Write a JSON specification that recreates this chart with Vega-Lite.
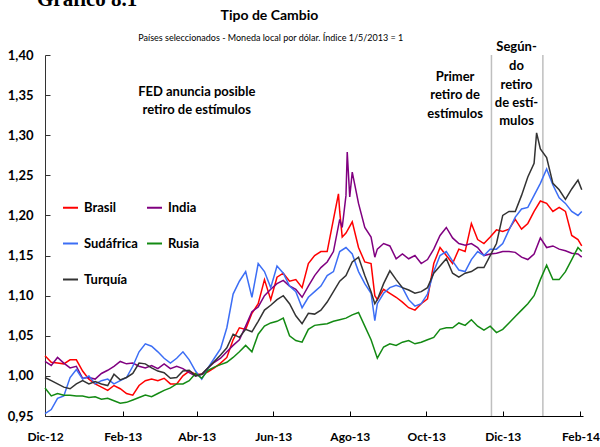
{
  "$schema": "https://vega.github.io/schema/vega-lite/v6.json",
  "width": 538,
  "height": 361,
  "autosize": {"type": "none"},
  "padding": {"left": 45, "top": 55, "right": 17, "bottom": 31},
  "background": "white",
  "config": {"view": {"stroke": null}, "font": "Lato"},
  "title": {
    "text": "Gráfico 8.1",
    "anchor": "start",
    "frame": "group",
    "dx": -8,
    "font": "Liberation Serif",
    "fontSize": 21,
    "fontWeight": "bold",
    "color": "#000",
    "offset": -1
  },
  "datasets": {
    "series": [
      {"d":"2012-12-01","Brasil":1.025,"India":1.018,"Sudáfrica":0.953,"Rusia":0.985,"Turquía":0.998},
      {"d":"2012-12-06","Brasil":1.017,"India":1.013,"Sudáfrica":0.958,"Rusia":0.975,"Turquía":0.994},
      {"d":"2012-12-11","Brasil":1.016,"India":1.023,"Sudáfrica":0.972,"Rusia":0.978,"Turquía":0.990},
      {"d":"2012-12-16","Brasil":1.015,"India":1.016,"Sudáfrica":0.975,"Rusia":0.976,"Turquía":0.986},
      {"d":"2012-12-21","Brasil":1.020,"India":1.010,"Sudáfrica":0.998,"Rusia":0.976,"Turquía":0.984},
      {"d":"2012-12-26","Brasil":1.020,"India":1.012,"Sudáfrica":1.008,"Rusia":0.975,"Turquía":0.990},
      {"d":"2012-12-31","Brasil":1.006,"India":0.997,"Sudáfrica":0.996,"Rusia":0.975,"Turquía":0.994},
      {"d":"2013-01-05","Brasil":0.996,"India":0.998,"Sudáfrica":1.000,"Rusia":0.973,"Turquía":0.990},
      {"d":"2013-01-10","Brasil":0.990,"India":0.996,"Sudáfrica":0.990,"Rusia":0.974,"Turquía":0.993},
      {"d":"2013-01-15","Brasil":0.986,"India":1.003,"Sudáfrica":0.994,"Rusia":0.971,"Turquía":0.990},
      {"d":"2013-01-20","Brasil":0.982,"India":1.007,"Sudáfrica":0.996,"Rusia":0.972,"Turquía":0.988},
      {"d":"2013-01-25","Brasil":0.988,"India":1.012,"Sudáfrica":0.990,"Rusia":0.969,"Turquía":1.002},
      {"d":"2013-01-30","Brasil":0.984,"India":1.018,"Sudáfrica":0.994,"Rusia":0.966,"Turquía":0.995},
      {"d":"2013-02-04","Brasil":0.978,"India":1.015,"Sudáfrica":0.998,"Rusia":0.967,"Turquía":0.998},
      {"d":"2013-02-09","Brasil":0.976,"India":1.016,"Sudáfrica":1.012,"Rusia":0.970,"Turquía":1.003},
      {"d":"2013-02-14","Brasil":0.988,"India":1.012,"Sudáfrica":1.030,"Rusia":0.973,"Turquía":1.016},
      {"d":"2013-02-19","Brasil":0.994,"India":1.010,"Sudáfrica":1.040,"Rusia":0.976,"Turquía":1.015},
      {"d":"2013-02-24","Brasil":0.996,"India":1.013,"Sudáfrica":1.037,"Rusia":0.974,"Turquía":1.010},
      {"d":"2013-03-01","Brasil":0.994,"India":1.009,"Sudáfrica":1.030,"Rusia":0.978,"Turquía":1.006},
      {"d":"2013-03-06","Brasil":0.997,"India":1.015,"Sudáfrica":1.022,"Rusia":0.982,"Turquía":1.004},
      {"d":"2013-03-11","Brasil":0.990,"India":1.009,"Sudáfrica":1.016,"Rusia":0.985,"Turquía":0.997},
      {"d":"2013-03-16","Brasil":0.990,"India":1.012,"Sudáfrica":1.022,"Rusia":0.990,"Turquía":0.998},
      {"d":"2013-03-21","Brasil":1.000,"India":1.009,"Sudáfrica":1.030,"Rusia":0.990,"Turquía":1.006},
      {"d":"2013-03-26","Brasil":1.006,"India":1.004,"Sudáfrica":1.020,"Rusia":0.994,"Turquía":1.007},
      {"d":"2013-03-31","Brasil":1.002,"India":1.000,"Sudáfrica":1.006,"Rusia":1.003,"Turquía":1.000},
      {"d":"2013-04-05","Brasil":1.002,"India":1.002,"Sudáfrica":0.996,"Rusia":0.997,"Turquía":1.002},
      {"d":"2013-04-10","Brasil":1.005,"India":1.010,"Sudáfrica":1.010,"Rusia":1.007,"Turquía":1.010},
      {"d":"2013-04-15","Brasil":1.010,"India":1.017,"Sudáfrica":1.022,"Rusia":1.011,"Turquía":1.018},
      {"d":"2013-04-20","Brasil":1.016,"India":1.022,"Sudáfrica":1.034,"Rusia":1.014,"Turquía":1.026},
      {"d":"2013-04-25","Brasil":1.023,"India":1.030,"Sudáfrica":1.060,"Rusia":1.017,"Turquía":1.035},
      {"d":"2013-04-30","Brasil":1.045,"India":1.038,"Sudáfrica":1.102,"Rusia":1.023,"Turquía":1.052},
      {"d":"2013-05-05","Brasil":1.060,"India":1.045,"Sudáfrica":1.118,"Rusia":1.030,"Turquía":1.048},
      {"d":"2013-05-10","Brasil":1.058,"India":1.062,"Sudáfrica":1.130,"Rusia":1.038,"Turquía":1.058},
      {"d":"2013-05-15","Brasil":1.078,"India":1.080,"Sudáfrica":1.098,"Rusia":1.030,"Turquía":1.055},
      {"d":"2013-05-20","Brasil":1.090,"India":1.086,"Sudáfrica":1.140,"Rusia":1.052,"Turquía":1.068},
      {"d":"2013-05-25","Brasil":1.120,"India":1.100,"Sudáfrica":1.130,"Rusia":1.062,"Turquía":1.082},
      {"d":"2013-05-30","Brasil":1.095,"India":1.108,"Sudáfrica":1.110,"Rusia":1.066,"Turquía":1.088},
      {"d":"2013-06-04","Brasil":1.123,"India":1.115,"Sudáfrica":1.137,"Rusia":1.068,"Turquía":1.095},
      {"d":"2013-06-09","Brasil":1.128,"India":1.119,"Sudáfrica":1.128,"Rusia":1.072,"Turquía":1.100},
      {"d":"2013-06-14","Brasil":1.118,"India":1.112,"Sudáfrica":1.112,"Rusia":1.050,"Turquía":1.090},
      {"d":"2013-06-19","Brasil":1.120,"India":1.108,"Sudáfrica":1.105,"Rusia":1.044,"Turquía":1.075},
      {"d":"2013-06-24","Brasil":1.110,"India":1.098,"Sudáfrica":1.085,"Rusia":1.042,"Turquía":1.065},
      {"d":"2013-06-29","Brasil":1.140,"India":1.112,"Sudáfrica":1.098,"Rusia":1.058,"Turquía":1.078},
      {"d":"2013-07-04","Brasil":1.150,"India":1.125,"Sudáfrica":1.105,"Rusia":1.063,"Turquía":1.077},
      {"d":"2013-07-09","Brasil":1.155,"India":1.135,"Sudáfrica":1.112,"Rusia":1.064,"Turquía":1.082},
      {"d":"2013-07-14","Brasil":1.155,"India":1.142,"Sudáfrica":1.125,"Rusia":1.065,"Turquía":1.092},
      {"d":"2013-07-19","Brasil":1.195,"India":1.155,"Sudáfrica":1.130,"Rusia":1.068,"Turquía":1.105},
      {"d":"2013-07-23","Brasil":1.227},
      {"d":"2013-07-24","Brasil":1.205,"India":1.195,"Sudáfrica":1.155,"Rusia":1.070,"Turquía":1.118},
      {"d":"2013-07-26","Brasil":1.173,"India":1.185},
      {"d":"2013-07-29","Brasil":1.178,"India":1.225,"Sudáfrica":1.160,"Rusia":1.072,"Turquía":1.125},
      {"d":"2013-07-30","India":1.279},
      {"d":"2013-08-01","India":1.223},
      {"d":"2013-08-03","Brasil":1.192,"India":1.254,"Sudáfrica":1.152,"Rusia":1.076,"Turquía":1.142},
      {"d":"2013-08-08","Brasil":1.160,"India":1.215,"Sudáfrica":1.130,"Rusia":1.079,"Turquía":1.148},
      {"d":"2013-08-13","Brasil":1.142,"India":1.185,"Sudáfrica":1.115,"Rusia":1.062,"Turquía":1.125},
      {"d":"2013-08-18","Brasil":1.140,"India":1.173,"Sudáfrica":1.103,"Rusia":1.045,"Turquía":1.105},
      {"d":"2013-08-21","Brasil":1.100,"India":1.148,"Sudáfrica":1.069,"Turquía":1.090},
      {"d":"2013-08-23","Brasil":1.095,"India":1.158,"Sudáfrica":1.090,"Rusia":1.022,"Turquía":1.095},
      {"d":"2013-08-28","Brasil":1.108,"India":1.165,"Sudáfrica":1.103,"Rusia":1.036,"Turquía":1.115},
      {"d":"2013-09-02","Brasil":1.103,"India":1.162,"Sudáfrica":1.110,"Rusia":1.040,"Turquía":1.131},
      {"d":"2013-09-07","Brasil":1.098,"India":1.146,"Sudáfrica":1.113,"Rusia":1.038,"Turquía":1.120},
      {"d":"2013-09-12","Brasil":1.092,"India":1.152,"Sudáfrica":1.110,"Rusia":1.042,"Turquía":1.110},
      {"d":"2013-09-17","Brasil":1.085,"India":1.146,"Sudáfrica":1.095,"Rusia":1.044,"Turquía":1.107},
      {"d":"2013-09-22","Brasil":1.082,"India":1.150,"Sudáfrica":1.087,"Rusia":1.040,"Turquía":1.103},
      {"d":"2013-09-27","Brasil":1.090,"India":1.140,"Sudáfrica":1.090,"Rusia":1.042,"Turquía":1.105},
      {"d":"2013-10-02","Brasil":1.096,"India":1.145,"Sudáfrica":1.102,"Rusia":1.045,"Turquía":1.110},
      {"d":"2013-10-07","Brasil":1.140,"India":1.158,"Sudáfrica":1.130,"Rusia":1.048,"Turquía":1.128},
      {"d":"2013-10-12","Brasil":1.160,"India":1.175,"Sudáfrica":1.150,"Rusia":1.058,"Turquía":1.137},
      {"d":"2013-10-17","Brasil":1.150,"India":1.185,"Sudáfrica":1.155,"Rusia":1.060,"Turquía":1.146},
      {"d":"2013-10-22","Brasil":1.140,"India":1.172,"Sudáfrica":1.143,"Rusia":1.060,"Turquía":1.128},
      {"d":"2013-10-27","Brasil":1.158,"India":1.165,"Sudáfrica":1.132,"Rusia":1.066,"Turquía":1.123},
      {"d":"2013-11-01","Brasil":1.155,"India":1.163,"Sudáfrica":1.130,"Rusia":1.063,"Turquía":1.128},
      {"d":"2013-11-06","Brasil":1.190,"India":1.165,"Sudáfrica":1.145,"Rusia":1.070,"Turquía":1.130},
      {"d":"2013-11-11","Brasil":1.170,"India":1.160,"Sudáfrica":1.155,"Rusia":1.062,"Turquía":1.135},
      {"d":"2013-11-16","Brasil":1.165,"India":1.150,"Sudáfrica":1.150,"Rusia":1.057,"Turquía":1.135},
      {"d":"2013-11-21","Brasil":1.173,"India":1.152,"Sudáfrica":1.158,"Rusia":1.062,"Turquía":1.150},
      {"d":"2013-11-26","Brasil":1.182,"India":1.153,"Sudáfrica":1.158,"Rusia":1.054,"Turquía":1.165},
      {"d":"2013-12-01","Brasil":1.180,"India":1.155,"Sudáfrica":1.165,"Rusia":1.058,"Turquía":1.200},
      {"d":"2013-12-06","Brasil":1.183,"India":1.155,"Sudáfrica":1.182,"Rusia":1.066,"Turquía":1.205},
      {"d":"2013-12-11","Brasil":1.195,"India":1.154,"Sudáfrica":1.198,"Rusia":1.074,"Turquía":1.205},
      {"d":"2013-12-16","Brasil":1.183,"India":1.148,"Sudáfrica":1.208,"Rusia":1.082,"Turquía":1.225},
      {"d":"2013-12-21","Brasil":1.190,"India":1.145,"Sudáfrica":1.210,"Rusia":1.090,"Turquía":1.248},
      {"d":"2013-12-26","Brasil":1.205,"India":1.152,"Sudáfrica":1.225,"Rusia":1.100,"Turquía":1.265},
      {"d":"2013-12-28","Turquía":1.303},
      {"d":"2013-12-31","Brasil":1.218,"India":1.172,"Sudáfrica":1.240,"Rusia":1.120,"Turquía":1.283},
      {"d":"2014-01-05","Brasil":1.215,"India":1.160,"Sudáfrica":1.258,"Rusia":1.138,"Turquía":1.272},
      {"d":"2014-01-10","Brasil":1.205,"India":1.162,"Sudáfrica":1.238,"Rusia":1.120,"Turquía":1.240},
      {"d":"2014-01-15","Brasil":1.210,"India":1.158,"Sudáfrica":1.222,"Rusia":1.120,"Turquía":1.232},
      {"d":"2014-01-20","Brasil":1.205,"India":1.156,"Sudáfrica":1.215,"Rusia":1.130,"Turquía":1.220},
      {"d":"2014-01-25","Brasil":1.175,"India":1.153,"Sudáfrica":1.205,"Rusia":1.145,"Turquía":1.233},
      {"d":"2014-01-30","Brasil":1.170,"India":1.152,"Sudáfrica":1.200,"Rusia":1.160,"Turquía":1.244},
      {"d":"2014-02-02","Brasil":1.162,"India":1.148,"Sudáfrica":1.205,"Rusia":1.155,"Turquía":1.232}
    ],
    "rules": [{"d": "2013-11-22"}, {"d": "2014-01-02"}],
    "notes": [
      {"d": "2013-04-01", "v": 1.3539, "t": "FED anuncia posible"},
      {"d": "2013-04-01", "v": 1.3319, "t": "retiro de estímulos"},
      {"d": "2013-10-24", "v": 1.3726, "t": "Primer"},
      {"d": "2013-10-24", "v": 1.3498, "t": "retiro de"},
      {"d": "2013-10-24", "v": 1.3269, "t": "estímulos"},
      {"d": "2013-12-12", "v": 1.4096, "t": "Según-"},
      {"d": "2013-12-12", "v": 1.3859, "t": "do"},
      {"d": "2013-12-12", "v": 1.3622, "t": "retiro"},
      {"d": "2013-12-12", "v": 1.3398, "t": "de estí-"},
      {"d": "2013-12-12", "v": 1.3173, "t": "mulos"}
    ],
    "mainTitle": [{"d": "2013-05-29", "v": 1.4483, "t": "Tipo de Cambio"}],
    "subTitle": [{"d": "2013-05-30", "v": 1.4208, "t": "Países seleccionados - Moneda local por dólar. Índice 1/5/2013 = 1"}]
  },
  "layer": [
    {
      "data": {"name": "rules"},
      "mark": {"type": "rule", "color": "#BFBFBF", "strokeWidth": 1.5},
      "encoding": {
        "x": {"field": "d", "type": "temporal",
              "scale": {"type": "utc", "domain": [{"year": 2012, "month": 12, "date": 1, "utc": true}, {"year": 2014, "month": 2, "date": 3, "utc": true}]}}
      }
    },
    {
      "data": {"name": "series"},
      "transform": [
        {"fold": ["Brasil", "India", "Sudáfrica", "Rusia", "Turquía"], "as": ["pais", "v"]},
        {"filter": "isValid(datum.v)"}
      ],
      "mark": {"type": "line", "strokeWidth": 1.5, "interpolate": "linear"},
      "encoding": {
        "x": {"field": "d", "type": "temporal",
              "scale": {"type": "utc", "domain": [{"year": 2012, "month": 12, "date": 1, "utc": true}, {"year": 2014, "month": 2, "date": 3, "utc": true}]},
              "axis": {
                "title": null, "grid": false,
                "values": [
                  {"year": 2012, "month": 12, "date": 1, "utc": true},
                  {"year": 2013, "month": 2, "date": 1, "utc": true},
                  {"year": 2013, "month": 4, "date": 1, "utc": true},
                  {"year": 2013, "month": 6, "date": 1, "utc": true},
                  {"year": 2013, "month": 8, "date": 1, "utc": true},
                  {"year": 2013, "month": 10, "date": 1, "utc": true},
                  {"year": 2013, "month": 12, "date": 1, "utc": true},
                  {"year": 2014, "month": 2, "date": 1, "utc": true}
                ],
                "labelExpr": "['Ene','Feb','Mar','Abr','May','Jun','Jul','Ago','Sep','Oct','Nov','Dic'][utcmonth(datum.value)] + '-' + utcFormat(datum.value, '%y')",
                "domainColor": "#000", "tickColor": "#000", "tickSize": -5,
                "labelFont": "Lato", "labelFontSize": 12, "labelFontWeight": "bold", "labelColor": "#000",
                "labelPadding": 20, "labelOverlap": false, "labelFlush": false
              }},
        "y": {"field": "v", "type": "quantitative",
              "scale": {"domain": [0.95, 1.4], "nice": false, "zero": false},
              "axis": {
                "title": null, "grid": false,
                "values": [0.95, 1.0, 1.05, 1.1, 1.15, 1.2, 1.25, 1.3, 1.35, 1.4],
                "labelExpr": "replace(format(datum.value, '.2f'), '.', ',')",
                "domainColor": "#333", "tickColor": "#333", "tickSize": -5,
                "labelFont": "Lato", "labelFontSize": 13, "labelFontWeight": "bold", "labelColor": "#000",
                "labelPadding": 17, "labelOverlap": false
              }},
        "color": {"field": "pais", "type": "nominal",
                  "scale": {"domain": ["Brasil", "Sudáfrica", "Turquía", "India", "Rusia"],
                            "range": ["#FF0000", "#3C6EF5", "#333333", "#800080", "#138A13"]},
                  "legend": {
                    "orient": "none", "legendX": 17, "legendY": 144, "columns": 2,
                    "title": null, "padding": 0,
                    "symbolType": "stroke", "symbolSize": 225, "symbolStrokeWidth": 2,
                    "labelFont": "Lato", "labelFontSize": 13, "labelFontWeight": "bold", "labelColor": "#000",
                    "labelOffset": 5, "rowPadding": 20, "columnPadding": 5
                  }}
      }
    },
    {
      "data": {"name": "notes"},
      "mark": {"type": "text", "font": "Lato", "fontSize": 13, "fontWeight": "bold", "align": "center", "baseline": "middle", "color": "#000"},
      "encoding": {
        "x": {"field": "d", "type": "temporal",
              "scale": {"type": "utc", "domain": [{"year": 2012, "month": 12, "date": 1, "utc": true}, {"year": 2014, "month": 2, "date": 3, "utc": true}]}},
        "y": {"field": "v", "type": "quantitative",
              "scale": {"domain": [0.95, 1.4], "nice": false, "zero": false}},
        "text": {"field": "t"}
      }
    },
    {
      "data": {"name": "mainTitle"},
      "mark": {"type": "text", "font": "Lato", "fontSize": 14, "fontWeight": "bold", "align": "center", "baseline": "middle", "color": "#000"},
      "encoding": {
        "x": {"field": "d", "type": "temporal",
              "scale": {"type": "utc", "domain": [{"year": 2012, "month": 12, "date": 1, "utc": true}, {"year": 2014, "month": 2, "date": 3, "utc": true}]}},
        "y": {"field": "v", "type": "quantitative",
              "scale": {"domain": [0.95, 1.4], "nice": false, "zero": false}},
        "text": {"field": "t"}
      }
    },
    {
      "data": {"name": "subTitle"},
      "mark": {"type": "text", "font": "Lato", "fontSize": 9, "fontWeight": "normal", "align": "center", "baseline": "middle", "color": "#000"},
      "encoding": {
        "x": {"field": "d", "type": "temporal",
              "scale": {"type": "utc", "domain": [{"year": 2012, "month": 12, "date": 1, "utc": true}, {"year": 2014, "month": 2, "date": 3, "utc": true}]}},
        "y": {"field": "v", "type": "quantitative",
              "scale": {"domain": [0.95, 1.4], "nice": false, "zero": false}},
        "text": {"field": "t"}
      }
    }
  ]
}
